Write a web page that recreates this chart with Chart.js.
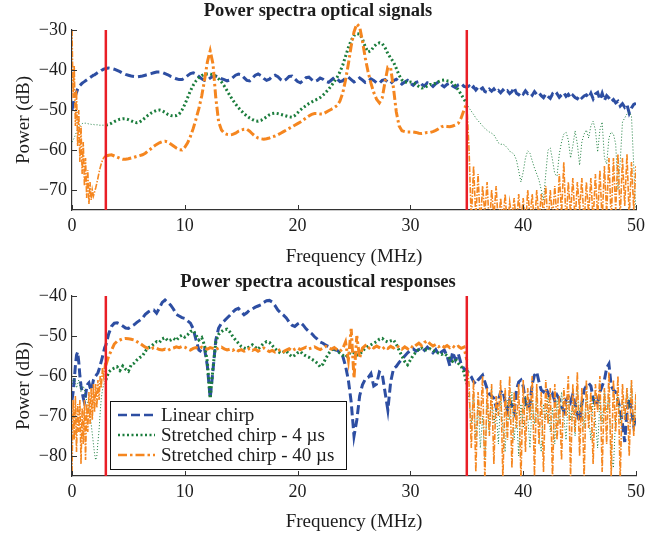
<!DOCTYPE html>
<html>
<head>
<meta charset="utf-8">
<script src="https://cdn.jsdelivr.net/npm/chart.js@4.4.1/dist/chart.umd.min.js"></script>
<style>
  html, body { margin: 0; padding: 0; background: #fff; }
  #wrap { position: relative; width: 665px; height: 533px; }
  canvas { position: absolute; left: 0; }
  #optical { top: 0; }
  #acoustic { top: 268px; }
</style>
</head>
<body>
<div id="wrap">
  <canvas id="optical" width="665" height="268"></canvas>
  <canvas id="acoustic" width="665" height="265"></canvas>
</div>
<script>
// frequency grids in MHz: 0.1 below the band, 0.25 inside it, 0.2 above it
function steps(from, count, step) {
  const out = [];
  for (let i = 0; i < count; i++) out.push(Math.round((from + i * step) * 100) / 100);
  return out;
}
const freqLow = steps(0, 30, 0.1);      // 0 .. 2.9
const freqMid = steps(3, 129, 0.25);    // 3 .. 35
const freqHigh = steps(35.2, 75, 0.2);  // 35.2 .. 50

const bandEdges = [3, 35];
const xTicks = [0, 10, 20, 30, 40, 50];
const opticalYTicks = [-70, -60, -50, -40, -30];
const acousticYTicks = [-80, -70, -60, -50, -40];
const opticalYRange = [-75, -30];
const acousticYRange = [-85, -40];
const seriesNames = ["Linear chirp", "Stretched chirp - 4 \u00b5s", "Stretched chirp - 40 \u00b5s"];

// ---- optical signals (dB) ----
const optLinearLow = [
  -50.0, -48.5, -47.3, -46.5, -45.6, -44.8, -44.3, -43.9, -43.6, -43.3,
  -43.1, -42.9, -42.7, -42.5, -42.3, -42.1, -41.9, -41.7, -41.5, -41.3,
  -41.2, -41.0, -40.8, -40.6, -40.5, -40.3, -40.1, -40.0, -39.8, -39.7
];
const optLinearMid = [
  -39.6, -39.5, -39.6, -39.8, -40.1, -40.4, -40.8, -41.1,
  -41.3, -41.5, -41.6, -41.7, -41.6, -41.5, -41.3, -41.1,
  -40.9, -40.7, -40.5, -40.5, -40.6, -40.9, -41.2, -41.6,
  -41.9, -42.2, -42.4, -42.4, -42.0, -41.4, -40.9, -40.7,
  -41.0, -41.6, -42.2, -42.6, -42.5, -42.0, -41.6, -41.5,
  -41.8, -42.2, -42.4, -42.7, -42.5, -41.9, -41.3, -41.0,
  -41.2, -41.9, -42.6, -42.7, -42.0, -41.3, -41.0, -41.4,
  -42.1, -42.6, -42.3, -41.6, -41.3, -41.7, -42.4, -42.8,
  -42.3, -41.6, -41.5, -42.2, -42.9, -43.2, -42.6, -41.9,
  -41.8, -42.4, -42.9, -42.6, -42.0, -42.3, -42.9, -43.1,
  -42.5, -41.9, -42.2, -42.9, -42.7, -42.0, -41.8, -42.4,
  -43.0, -42.6, -42.0, -42.5, -43.1, -42.8, -42.2, -42.6,
  -43.2, -43.3, -42.6, -42.4, -43.0, -43.4, -42.7, -42.3,
  -42.9, -43.5, -43.0, -42.6, -43.3, -43.8, -43.1, -42.9,
  -43.6, -44.0, -43.2, -43.5, -44.1, -43.4, -43.0, -43.7,
  -44.2, -43.6, -43.3, -44.0, -44.4, -43.7, -43.4, -44.1,
  -44.3
];
const optLinearHigh = [
  -44.0, -44.8, -44.2, -45.0, -44.3,
  -44.9, -44.5, -45.4, -45.6, -44.8,
  -45.3, -44.7, -45.5, -45.1, -45.7,
  -45.0, -45.6, -45.2, -45.9, -45.4,
  -44.4, -45.8, -46.2, -45.5, -46.0,
  -45.2, -45.9, -45.6, -46.3, -45.4,
  -46.1, -45.7, -46.4, -46.9, -46.0,
  -46.6, -47.1, -46.0, -46.5, -45.9,
  -46.8, -46.2, -45.7, -46.6, -46.1,
  -47.0, -46.3, -46.9, -47.2, -46.4,
  -47.0, -46.5, -46.2, -46.9, -45.8,
  -47.2, -46.0, -45.6, -47.4, -45.8,
  -47.6, -46.4, -47.0, -47.9, -47.4,
  -48.2, -47.8, -49.0, -48.4, -49.3,
  -48.7, -50.8, -49.5, -48.6, -48.3
];

const optShortLow = [
  -58.0, -57.5, -57.0, -56.2, -55.5, -54.8, -54.3, -53.9, -53.6, -53.4,
  -53.3, -53.3, -53.3, -53.4, -53.4, -53.5, -53.5, -53.6, -53.6, -53.6,
  -53.7, -53.7, -53.7, -53.7, -53.8, -53.8, -53.8, -53.8, -53.8, -53.8
];
const optShortMid = [
  -53.8, -53.6, -53.3, -52.9, -52.6, -52.3, -52.2, -52.2,
  -52.4, -52.7, -53.0, -53.2, -53.0, -52.5, -51.9, -51.3,
  -50.8, -50.4, -50.1, -50.0, -50.2, -50.6, -51.1, -51.4,
  -51.5, -51.4, -51.0, -50.0, -48.6, -46.9, -45.2, -43.8,
  -42.7, -41.9, -41.4, -41.1, -41.0, -41.0, -41.2, -41.6,
  -42.2, -43.0, -44.0, -45.2, -46.4, -47.5, -48.5, -49.4,
  -50.2, -50.9, -51.5, -52.0, -52.4, -52.7, -52.8, -52.6,
  -52.2, -51.7, -51.2, -50.9, -50.8, -50.9, -51.1, -51.3,
  -51.5, -51.7, -51.8, -51.4, -50.7, -50.0, -49.4, -48.9,
  -48.4, -48.0, -47.6, -47.3, -46.9, -46.3, -45.6, -44.8,
  -43.9, -42.9, -41.8, -40.5, -38.8, -36.6, -34.4, -32.6,
  -31.4, -30.9, -31.0, -32.3, -34.2, -35.5, -35.2, -34.2,
  -33.5, -33.2, -33.4, -34.4, -35.9, -37.0, -38.0, -39.6,
  -41.3, -42.5, -43.0, -43.1, -43.0, -43.2, -43.6, -44.1,
  -44.5, -44.4, -44.0, -43.6, -43.6, -43.3, -42.9, -42.6,
  -42.5, -42.7, -42.8, -43.2, -44.0, -45.0, -46.1, -47.3,
  -48.4
];
const optShortHigh = [
  -49.5, -50.3, -51.1, -52.0, -52.7,
  -53.3, -54.0, -54.6, -55.1, -55.5,
  -55.8, -56.2, -57.2, -58.2, -58.6,
  -58.5, -58.9, -59.5, -60.3, -60.6,
  -61.2, -62.5, -65.2, -68.0, -65.5,
  -62.0, -60.2, -60.8, -62.7, -64.5,
  -66.0, -67.5, -70.0, -72.5, -66.0,
  -60.0, -59.5, -62.5, -66.0, -66.5,
  -61.0, -58.0, -56.0, -55.6, -57.5,
  -62.0, -59.0, -55.2, -58.5, -63.8,
  -58.0, -56.0, -55.0, -57.0, -54.0,
  -52.8, -55.0, -60.5, -55.0, -53.0,
  -62.0, -63.5, -57.0, -55.5, -56.0,
  -58.5, -70.0, -63.0, -53.0, -52.0,
  -51.0, -50.5, -51.5, -64.0, -76.0
];

const optLongLow = [
  -30.0, -47.0, -39.0, -54.0, -45.0, -59.0, -50.0, -63.0, -54.0, -66.0,
  -58.0, -69.0, -62.0, -72.0, -65.0, -73.5, -68.0, -72.5, -70.0, -71.5,
  -70.5, -69.5, -68.3, -67.0, -65.6, -64.4, -63.4, -62.6, -62.0, -61.6
];
const optLongMid = [
  -61.5, -61.3, -61.2, -61.5, -61.8, -62.1, -62.3, -62.3,
  -62.2, -62.0, -61.8, -61.6, -61.4, -61.2, -60.8, -60.2,
  -59.7, -59.1, -58.6, -58.2, -57.9, -57.8, -58.0, -58.5,
  -59.0, -59.5, -59.9, -60.0, -59.3, -58.2, -56.6, -54.6,
  -52.2, -49.6, -46.5, -42.5, -38.0, -35.2, -38.5, -47.0,
  -53.0, -55.0, -55.8, -56.1, -56.2, -56.1, -55.8, -55.3,
  -55.0, -54.8, -54.8, -55.3, -56.0, -56.6, -57.0, -57.2,
  -57.3, -57.2, -57.0, -56.7, -56.5, -56.2, -55.8, -55.4,
  -55.0, -54.6, -54.2, -53.8, -53.4, -53.0, -52.5, -52.0,
  -51.5, -51.1, -50.9, -50.9, -51.0, -51.0, -50.6, -50.2,
  -49.8, -49.4, -48.9, -47.8, -45.8, -42.5, -38.5, -34.0,
  -30.5, -28.5, -29.2, -32.8, -37.0, -40.5, -43.3, -45.6,
  -47.3, -48.2, -47.0, -43.0, -39.3, -39.5, -44.5, -50.5,
  -54.0, -55.2, -55.4, -55.5, -55.5, -55.5, -55.6, -55.8,
  -55.9, -55.8, -55.6, -55.6, -55.4, -55.1, -54.7, -54.2,
  -54.0, -54.1, -54.2, -54.0, -53.7, -53.3, -52.0, -50.0,
  -48.3
];
const optLongHigh = [
  -60, -78, -64, -77, -66,
  -79, -69, -76, -68, -80,
  -70, -77, -69, -79, -72,
  -78, -71, -80, -73, -77,
  -72, -79, -71, -78, -72,
  -80, -70, -77, -71, -79,
  -70, -78, -71, -76, -69,
  -79, -70, -77, -69, -78,
  -66, -76, -63, -79, -68,
  -76, -67, -78, -68, -75,
  -67, -79, -68, -76, -67,
  -78, -66, -77, -65, -78,
  -64, -76, -62, -78, -62,
  -75, -61, -77, -62, -74,
  -61, -77, -63, -75, -64
];

// ---- acoustical responses (dB) ----
const acLinearLow = [
  -66.0, -64.0, -61.0, -57.5, -54.8, -54.0, -56.5, -60.0, -62.5, -64.0,
  -65.5, -66.6, -65.0, -62.8, -62.0, -61.7, -62.8, -63.6, -62.5, -61.0,
  -60.3, -60.0, -59.6, -59.2, -58.3, -57.3, -56.3, -55.2, -54.0, -52.9
];
const acLinearMid = [
  -52.3, -49.5, -47.6, -46.8, -46.7, -47.0, -47.5, -48.0,
  -48.1, -47.6, -47.2, -46.6, -46.1, -45.5, -44.6, -44.0,
  -43.6, -43.5, -44.3, -43.0, -41.6, -41.0, -41.6, -42.3,
  -43.3, -44.6, -45.0, -45.4, -45.6, -46.2, -46.8, -48.2,
  -51.0, -53.5, -54.0, -53.2, -57.5, -65.6, -58.5, -51.0,
  -48.0, -46.8, -46.2, -45.5, -44.8, -44.0, -43.4, -43.1,
  -43.9, -44.7, -44.2, -43.5, -43.2, -42.8, -42.5, -42.2,
  -41.6, -41.2, -41.1, -41.5, -42.4, -43.5, -44.2, -44.8,
  -45.5, -46.5, -47.3, -47.6, -47.0, -46.6, -47.3, -48.2,
  -48.9, -49.4, -50.2, -50.8, -51.5, -51.8, -52.3, -52.6,
  -52.9, -53.4, -53.6, -54.1, -55.0, -57.5, -61.0, -66.5,
  -75.0, -71.0, -65.0, -62.2, -60.8, -60.4, -59.4, -62.5,
  -62.0, -59.0, -59.5, -64.0, -68.5, -61.5, -58.2, -57.6,
  -56.6, -55.8, -55.0, -54.2, -53.6, -53.2, -53.8, -53.4,
  -52.9, -53.6, -52.8, -53.5, -54.2, -53.4, -54.6, -54.0,
  -53.5, -55.0, -57.5, -54.0, -56.0, -54.5, -57.0, -58.2,
  -58.5
];
const acLinearHigh = [
  -59.5, -60.2, -61.4, -62.0, -61.0,
  -60.4, -59.8, -61.5, -63.2, -64.5,
  -65.0, -65.5, -67.8, -66.0, -64.0,
  -63.6, -66.5, -68.5, -66.0, -67.5,
  -69.0, -63.5, -61.5, -61.0, -62.5,
  -66.5, -68.2, -67.0, -62.0, -59.8,
  -59.0, -61.5, -63.5, -64.0, -63.0,
  -64.2, -65.5, -64.5, -66.2, -64.8,
  -65.8, -67.5, -68.8, -66.0, -65.2,
  -66.5, -64.6, -67.0, -69.5, -71.5,
  -67.0, -63.5, -62.5, -61.8, -62.5,
  -65.5, -67.5, -66.5, -64.0, -62.5,
  -61.0, -58.0, -57.0, -62.5, -63.5,
  -64.0, -66.0, -68.5, -72.0, -76.5,
  -69.0, -65.5, -68.5, -72.5, -70.5
];

const acShortLow = [
  -62.0, -61.0, -60.5, -61.5, -63.0, -62.0, -61.0, -62.5, -64.0, -63.0,
  -62.5, -63.5, -65.0, -66.0, -67.0, -68.0, -69.5, -72.0, -74.5, -77.0,
  -79.5, -81.0, -80.0, -76.5, -73.5, -69.0, -65.5, -63.5, -62.3, -61.5
];
const acShortMid = [
  -61.0, -59.0, -58.4, -58.0, -57.7, -58.6, -57.5, -58.3,
  -58.8, -57.2, -56.8, -56.0, -55.4, -55.0, -53.8, -53.0,
  -52.6, -52.0, -51.4, -51.6, -50.7, -50.4, -51.2, -51.0,
  -50.6, -51.1, -50.2, -49.8, -50.3, -49.7, -48.9, -48.6,
  -49.8, -51.0, -50.4, -52.3, -56.5, -65.6, -58.0, -51.5,
  -49.6, -48.9, -48.4, -48.3, -49.0, -50.1, -51.0, -51.8,
  -52.6, -53.0, -53.2, -52.6, -52.2, -52.8, -53.3, -52.5,
  -51.8, -51.4, -51.6, -52.4, -53.2, -53.8, -54.3, -54.0,
  -53.8, -54.6, -55.2, -54.8, -54.2, -53.9, -54.6, -55.0,
  -55.3, -55.8, -56.2, -56.8, -57.7, -57.0, -55.6, -54.4,
  -53.5, -53.1, -53.6, -54.3, -54.8, -55.3, -54.6, -54.0,
  -54.2, -54.8, -54.6, -53.8, -53.0, -52.6, -52.2, -51.8,
  -51.4, -50.8, -50.6, -51.2, -51.5, -51.2, -51.0, -52.0,
  -53.6, -55.0, -56.4, -57.2, -56.0, -54.8, -54.0, -53.3,
  -53.0, -53.4, -53.5, -53.2, -53.6, -54.0, -54.3, -54.6,
  -54.4, -54.9, -55.6, -56.3, -55.8, -56.8, -57.6, -59.0,
  -62.0
];
const acShortHigh = [
  -66, -72, -64, -76, -66,
  -78, -70, -81, -67, -74,
  -63, -72, -68, -77, -65,
  -73, -79, -66, -71, -64,
  -76, -69, -80, -67, -73,
  -65, -70, -78, -66, -72,
  -64, -75, -79, -67, -71,
  -65, -74, -68, -77, -66,
  -72, -64, -70, -76, -65,
  -71, -67, -75, -63, -69,
  -66, -73, -64, -70, -76,
  -65, -71, -78, -66, -72,
  -63, -69, -65, -80, -83,
  -70, -64, -72, -66, -71,
  -63, -68, -61, -74, -66
];

const acLongLow = [
  -84, -66, -76, -65, -79, -67, -74, -66, -82, -68,
  -77, -66, -81, -67, -74, -64, -72, -63, -71, -62,
  -69, -62, -68, -61, -66, -60, -63, -58, -60, -57
];
const acLongMid = [
  -57.3, -55.0, -53.6, -52.0, -51.3, -51.0, -50.7, -50.6,
  -50.7, -50.8, -51.0, -51.4, -51.8, -52.3, -52.8, -53.1,
  -53.2, -52.9, -53.1, -53.4, -53.5, -53.3, -53.6, -53.2,
  -53.0, -52.7, -52.9, -52.6, -52.8, -53.2, -53.5, -53.1,
  -52.9, -53.2, -52.8, -53.0, -53.3, -52.9, -53.1, -53.4,
  -53.0, -52.8, -53.2, -53.5, -53.3, -53.6, -53.2, -53.7,
  -53.4, -53.8, -53.5, -53.1, -53.6, -53.3, -53.8, -53.4,
  -53.0, -53.5, -53.9, -53.6, -54.0, -53.7, -53.4, -53.9,
  -53.5, -53.2, -53.7, -53.3, -53.0, -53.4, -53.1, -52.8,
  -53.2, -53.0, -52.7, -53.1, -53.4, -53.0, -52.6, -53.0,
  -53.3, -52.9, -53.4, -53.8, -53.2, -51.5, -56.0, -48.2,
  -60.5, -50.0, -55.5, -53.0, -52.4, -53.2, -52.6, -53.0,
  -52.5, -52.9, -53.3, -52.7, -53.1, -52.6, -53.0, -52.4,
  -52.8, -53.3, -52.7, -53.2, -52.5, -52.9, -52.3, -51.8,
  -52.4, -51.6, -51.2, -52.0, -52.5, -52.1, -52.7, -52.3,
  -52.8, -52.4, -52.9, -52.5, -53.0, -52.6, -53.1, -52.8,
  -56.0
];
const acLongHigh = [
  -62, -78, -61, -84, -64,
  -72, -60, -86, -63, -75,
  -62, -82, -65, -70, -61,
  -86, -63, -76, -60, -83,
  -64, -73, -62, -86, -61,
  -79, -63, -71, -60, -85,
  -62, -77, -64, -84, -61,
  -72, -63, -86, -62, -76,
  -65, -81, -63, -70, -60,
  -85, -62, -74, -59, -80,
  -63, -86, -61, -73, -64,
  -82, -62, -69, -60, -84,
  -63, -77, -59, -85, -61,
  -74, -60, -86, -62, -71,
  -63, -80, -61, -75, -64
];

const BLUE = "#2d4ea2";
const GREEN = "#1b7d3c";
const ORANGE = "#f5861f";
const RED = "#e91e26";
const AXIS = "#333333";
const TEXT = "#1c1c1c";
const SERIF = "'Liberation Serif', 'Times New Roman', serif";

// line style per series: inside the band / outside the band
const seriesStyles = [
  { color: BLUE, width: 3, dash: [9, 4], thinWidth: 3, thinDash: [9, 4] },
  { color: GREEN, width: 3, dash: [2, 2.5], thinWidth: 1, thinDash: [1, 2] },
  { color: ORANGE, width: 3, dash: [9, 3, 2.5, 3], thinWidth: 1.6, thinDash: [6, 1.5, 1.5, 1.5] }
];

function toPoints(low, mid, high) {
  const pts = [];
  freqLow.forEach((f, i) => pts.push({ x: f, y: low[i] }));
  freqMid.forEach((f, i) => pts.push({ x: f, y: mid[i] }));
  freqHigh.forEach((f, i) => pts.push({ x: f, y: high[i] }));
  return pts;
}

function inBand(ctx) {
  return ctx.p0.parsed.x >= bandEdges[0] && ctx.p1.parsed.x <= bandEdges[1];
}

function seriesDataset(i, points) {
  const s = seriesStyles[i];
  return {
    label: seriesNames[i],
    data: points,
    borderColor: s.color,
    borderWidth: s.width,
    borderDash: s.dash,
    borderCapStyle: "butt",
    pointRadius: 0,
    tension: 0,
    order: 3 - i,
    clip: { left: 0, right: 0, bottom: 0, top: false },
    segment: {
      borderWidth: (ctx) => (inBand(ctx) ? s.width : s.thinWidth),
      borderDash: (ctx) => (inBand(ctx) ? s.dash : s.thinDash)
    }
  };
}

function bandDatasets(yRange) {
  return bandEdges.map((f) => ({
    label: "band",
    data: [{ x: f, y: yRange[0] }, { x: f, y: yRange[1] }],
    borderColor: RED,
    borderWidth: 2.5,
    pointRadius: 0,
    order: 0
  }));
}

function formatDb(v) {
  return String(v).replace("-", "\u2212");
}

// small tick marks pointing into the plot
const innerTicks = {
  id: "innerTicks",
  afterDraw(chart) {
    const { ctx, chartArea, scales } = chart;
    ctx.save();
    ctx.strokeStyle = AXIS;
    ctx.lineWidth = 1;
    ctx.beginPath();
    scales.x.ticks.forEach((t) => {
      const px = Math.round(scales.x.getPixelForValue(t.value)) + 0.5;
      ctx.moveTo(px, chartArea.bottom);
      ctx.lineTo(px, chartArea.bottom - 5);
    });
    scales.y.ticks.forEach((t) => {
      const py = Math.round(scales.y.getPixelForValue(t.value)) + 0.5;
      ctx.moveTo(chartArea.left, py);
      ctx.lineTo(chartArea.left + 5, py);
    });
    ctx.stroke();
    ctx.restore();
  }
};

// boxed legend inside the acoustic plot, with line samples
const boxLegend = {
  id: "boxLegend",
  afterDraw(chart, args, opts) {
    if (!opts.show) return;
    const { ctx, chartArea } = chart;
    const x0 = chartArea.left + opts.dx;
    const y0 = chartArea.top + opts.dy;
    ctx.save();
    ctx.fillStyle = "#fff";
    ctx.fillRect(x0, y0, opts.w, opts.h);
    ctx.strokeStyle = "#111";
    ctx.lineWidth = 1;
    ctx.strokeRect(x0 + 0.5, y0 + 0.5, opts.w, opts.h);
    ctx.font = "19px " + SERIF;
    ctx.fillStyle = TEXT;
    ctx.textBaseline = "middle";
    seriesNames.forEach((name, i) => {
      const s = seriesStyles[i];
      const y = y0 + 14 + i * 20;
      ctx.strokeStyle = s.color;
      ctx.lineWidth = 2.5;
      ctx.setLineDash(s.dash);
      ctx.beginPath();
      ctx.moveTo(x0 + 8, y);
      ctx.lineTo(x0 + 45, y);
      ctx.stroke();
      ctx.setLineDash([]);
      ctx.fillText(name, x0 + 51, y + 1);
    });
    ctx.restore();
  }
};

function makePanel(canvasId, cfg) {
  const axisFont = { family: SERIF, size: 18 };
  const titleFont = { family: SERIF, size: 19 };
  return new Chart(document.getElementById(canvasId), {
    type: "line",
    data: {
      datasets: bandDatasets(cfg.yRange).concat([
        seriesDataset(0, cfg.linear),
        seriesDataset(1, cfg.short),
        seriesDataset(2, cfg.long)
      ])
    },
    options: {
      responsive: false,
      animation: false,
      devicePixelRatio: 1,
      events: [],
      layout: { padding: { left: 0, right: 29, top: 0, bottom: 0 } },
      plugins: {
        legend: { display: false },
        tooltip: { enabled: false },
        title: {
          display: true,
          text: cfg.title,
          color: TEXT,
          font: { family: SERIF, size: 18.5, weight: "bold" },
          padding: cfg.titlePadding
        },
        boxLegend: cfg.legend
      },
      scales: {
        x: {
          type: "linear",
          min: 0,
          max: 50,
          afterBuildTicks: (s) => { s.ticks = xTicks.map((v) => ({ value: v })); },
          afterFit: (s) => { s.height = cfg.xHeight; },
          grid: { display: false, drawTicks: false },
          border: { display: true, color: AXIS, width: 1.2 },
          ticks: { color: TEXT, font: axisFont, padding: 5, maxRotation: 0, autoSkip: false },
          title: { display: true, text: "Frequency (MHz)", color: TEXT, font: titleFont, padding: 0 }
        },
        y: {
          type: "linear",
          min: cfg.yRange[0],
          max: cfg.yRange[1],
          afterBuildTicks: (s) => { s.ticks = cfg.yTicks.map((v) => ({ value: v })); },
          afterFit: (s) => { s.width = 72; },
          grid: { display: false, drawTicks: false },
          border: { display: true, color: AXIS, width: 1.2 },
          ticks: { color: TEXT, font: axisFont, padding: 5, callback: (v) => formatDb(v) },
          title: { display: true, text: "Power (dB)", color: TEXT, font: titleFont, padding: { top: 13, bottom: 0 } }
        }
      }
    },
    plugins: [innerTicks, boxLegend]
  });
}

makePanel("optical", {
  title: "Power spectra optical signals",
  titlePadding: { top: 0, bottom: 7.8 },
  yRange: opticalYRange,
  yTicks: opticalYTicks,
  xHeight: 58,
  linear: toPoints(optLinearLow, optLinearMid, optLinearHigh),
  short: toPoints(optShortLow, optShortMid, optShortHigh),
  long: toPoints(optLongLow, optLongMid, optLongHigh),
  legend: { show: false }
});

makePanel("acoustic", {
  title: "Power spectra acoustical responses",
  titlePadding: { top: 3.2, bottom: 2.6 },
  yRange: acousticYRange,
  yTicks: acousticYTicks,
  xHeight: 57,
  linear: toPoints(acLinearLow, acLinearMid, acLinearHigh),
  short: toPoints(acShortLow, acShortMid, acShortHigh),
  long: toPoints(acLongLow, acLongMid, acLongHigh),
  legend: { show: true, dx: 38, dy: 105, w: 236, h: 68 }
});
</script>
</body>
</html>
